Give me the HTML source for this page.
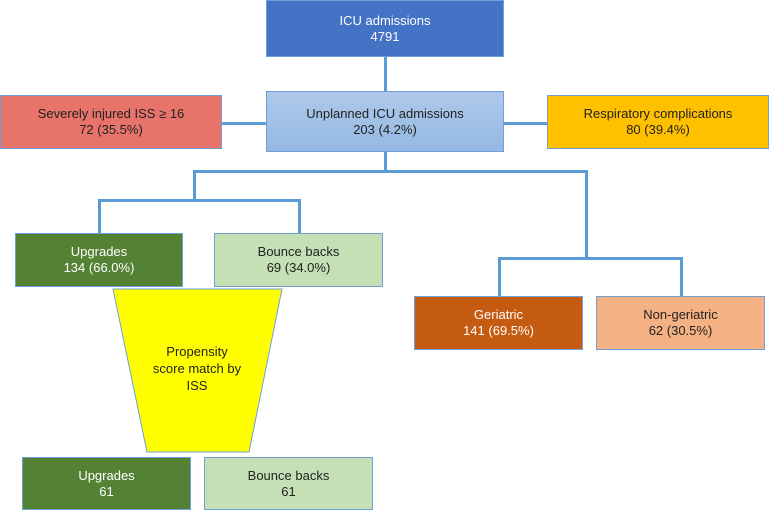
<!DOCTYPE html>
<html><head><style>
body{margin:0;width:769px;height:510px;position:relative;background:#fff;font-family:"Liberation Sans",sans-serif;font-size:13px;overflow:hidden}
.b{position:absolute;box-sizing:border-box;display:flex;align-items:center;justify-content:center;text-align:center;line-height:16px;border:1.5px solid #6fa0d8}
.l{position:absolute;background:#5b9bd5}
</style></head><body>
<div class="l" style="left:384px;top:57px;width:3px;height:34px"></div>
<div class="l" style="left:222px;top:122px;width:325px;height:3px"></div>
<div class="l" style="left:384px;top:152px;width:3px;height:20px"></div>
<div class="l" style="left:193px;top:170px;width:395px;height:3px"></div>
<div class="l" style="left:193px;top:170px;width:3px;height:31px"></div>
<div class="l" style="left:98px;top:199px;width:203px;height:3px"></div>
<div class="l" style="left:98px;top:199px;width:3px;height:34px"></div>
<div class="l" style="left:298px;top:199px;width:3px;height:34px"></div>
<div class="l" style="left:585px;top:170px;width:3px;height:89px"></div>
<div class="l" style="left:498px;top:257px;width:185px;height:3px"></div>
<div class="l" style="left:498px;top:257px;width:3px;height:40px"></div>
<div class="l" style="left:680px;top:257px;width:3px;height:40px"></div>

<div class="b" style="left:266px;top:0;width:238px;height:57px;background:#4472c4;color:#fff">ICU admissions<br>4791</div>
<div class="b" style="left:266px;top:91px;width:238px;height:61px;background:linear-gradient(#aec8ea,#94b8e2);color:#222">Unplanned ICU admissions<br>203 (4.2%)</div>
<div class="b" style="left:0;top:95px;width:222px;height:54px;background:#e8736a;color:#222">Severely injured ISS ≥ 16<br>72 (35.5%)</div>
<div class="b" style="left:547px;top:95px;width:222px;height:54px;background:#ffc000;color:#222">Respiratory complications<br>80 (39.4%)</div>
<div class="b" style="left:15px;top:233px;width:168px;height:54px;background:#548235;color:#fff">Upgrades<br>134 (66.0%)</div>
<div class="b" style="left:214px;top:233px;width:169px;height:54px;background:#c5e0b4;color:#222">Bounce backs<br>69 (34.0%)</div>
<div class="b" style="left:414px;top:296px;width:169px;height:54px;background:#c55a11;color:#fff">Geriatric<br>141 (69.5%)</div>
<div class="b" style="left:596px;top:296px;width:169px;height:54px;background:#f4b183;color:#222">Non-geriatric<br>62 (30.5%)</div>
<svg style="position:absolute;left:0;top:0" width="769" height="510"><polygon points="113,289 282,289 249,452 147,452" fill="#ffff00" stroke="#6fa0d8" stroke-width="1"/></svg>
<div style="position:absolute;left:147px;top:343px;width:100px;text-align:center;line-height:17px;color:#222">Propensity<br>score match by<br>ISS</div>
<div class="b" style="left:22px;top:457px;width:169px;height:53px;background:#548235;color:#fff">Upgrades<br>61</div>
<div class="b" style="left:204px;top:457px;width:169px;height:53px;background:#c5e0b4;color:#222">Bounce backs<br>61</div>
</body></html>
